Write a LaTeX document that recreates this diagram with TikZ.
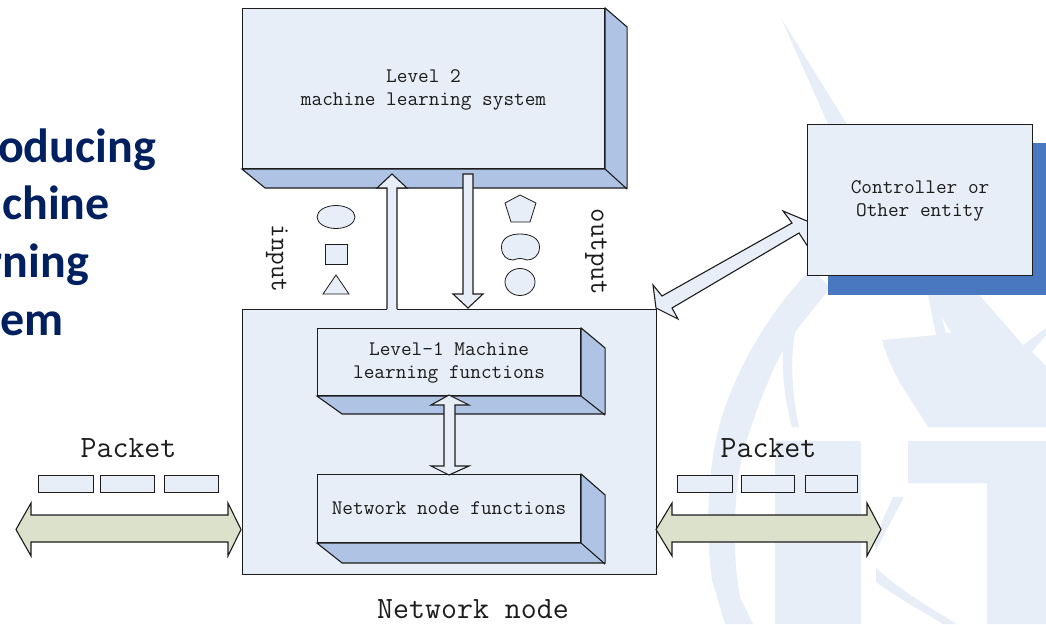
\documentclass[tikz,border=0pt]{standalone}
\usepackage{fontspec}
\setmainfont{Carlito}
\setmonofont{Latin Modern Mono}
\definecolor{wm}{HTML}{E8EEF8}
\definecolor{boxfill}{HTML}{E8EEF8}
\definecolor{sidefill}{HTML}{AFC4E4}
\definecolor{shadowblue}{HTML}{4A78C0}
\definecolor{pktgreen}{HTML}{DCE1CB}
\definecolor{titleblue}{HTML}{002060}
\definecolor{ink}{HTML}{1C1C1C}
\newcommand{\dn}{\rule{0pt}{15.5pt}}
\tikzset{
  x=1pt,y=-1pt,
  ln/.style={draw=ink,line width=1.1pt,line join=miter},
  box/.style={ln,fill=boxfill,inner sep=0pt,anchor=north west,align=center,
    font=\ttfamily\fontsize{20.7}{23}\selectfont,text=ink},
  side/.style={ln,fill=sidefill},
  blockarrow/.style={ln,fill=boxfill},
  greenarrow/.style={ln,fill=pktgreen},
  pkt/.style={ln,fill=boxfill,inner sep=0pt,anchor=north west,minimum height=17pt},
  glyph/.style={draw=ink,line width=0.8pt,fill=boxfill},
  bigmono/.style={font=\ttfamily\fontsize{31}{34}\selectfont,text=ink,inner sep=0pt},
  headline/.style={font=\bfseries\fontsize{48}{52}\selectfont,text=titleblue,inner sep=0pt,anchor=base east},
}
\begin{document}
\begin{tikzpicture}
\useasboundingbox (0,0) rectangle (1046,624);
\clip (0,0) rectangle (1046,624);
% watermark
\fill[wm] (781,18) -- (828,124) -- (847,124) -- cycle;
\fill[wm] (812,268) .. controls (770,310) and (735,370) .. (720,423)
  .. controls (708,465) and (705,530) .. (712,580) -- (725,624) -- (753,624) -- (740,597)
  .. controls (733,560) and (733,510) .. (740,467)
  .. controls (748,430) and (765,385) .. (783,350)
  .. controls (782,380) and (786,405) .. (792,427) -- (799,427)
  .. controls (792,395) and (790,360) .. (795,332) -- (830,288) -- cycle;
\fill[wm] (775,441) rectangle (861,624);
\fill[wm] (908,441) -- (1046,441) -- (1046,624) -- (987,624) -- (987,483) -- (908,483) -- cycle;
\fill[wm] (882,340) -- (936,335) -- (927,290) -- (975,290) -- (1023,345) -- (1046,328) -- (1046,335)
  -- (1032,352) -- (1046,366) -- (1046,427) -- (928,427) -- (900,383) .. controls (892,368) and (886,355) .. cycle;
\fill[white] (942,318) -- (951,333) -- (946,333) -- cycle;
\fill[wm] (893,497) -- (904,497) -- (876,550) -- (874,540) -- cycle;
\fill[wm] (876,568) .. controls (900,590) and (930,608) .. (957,624) -- (943,624)
  .. controls (920,610) and (895,596) .. (876,582) -- cycle;
% heading
\node[headline] (h1) at (156,162) {Introducing};
\node[headline] (h2) at (110,219) {machine};
\node[headline] (h3) at (89,277) {learning};
\node[headline] (h4) at (64,335) {system};
% controller shadow
\fill[shadowblue] (828,143) rectangle (1046,295);
% level 2
\node[box,minimum width=362pt,minimum height=160pt] (l2) at (242,8) {\dn Level 2\\machine learning system};
\draw[side] (l2.north east) -- ++(22,19) -- ++(0,161) -- ++(-362,0) -- (l2.south west) -- (l2.south east) -- cycle;
\draw[ln] (l2.south east) -- ++(22,20);
% network node
\node[draw=ink,line width=1.1pt,fill=boxfill,inner sep=0pt,anchor=north west,minimum width=414pt,minimum height=265pt] (net) at (242,309) {};
% level 1
\node[box,minimum width=263pt,minimum height=67pt] (l1) at (317,328) {\dn Level-1 Machine\\learning functions};
\draw[side] (l1.north east) -- ++(24,20) -- ++(0,66) -- ++(-263,0) -- (l1.south west) -- (l1.south east) -- cycle;
\draw[ln] (l1.south east) -- ++(24,19);
\node[box,minimum width=263pt,minimum height=68pt] (nf) at (317,474) {Network node functions};
\draw[side] (nf.north east) -- ++(24,21) -- ++(0,68) -- ++(-263,0) -- (nf.south west) -- (nf.south east) -- cycle;
\draw[ln] (nf.south east) -- ++(24,21);
% controller
\coordinate (diagA) at (656,308);
\coordinate (diagB) at (819,226);
\draw[blockarrow] (diagA) -- (653,285) -- (662,296) -- (792,223) -- (783,211) -- (diagB) -- (810,250) -- (799,233) -- (672,308) -- (678,319) -- cycle;
\node[box,minimum width=225pt,minimum height=151pt] (ctl) at (807,124) {\dn Controller or\\Other entity};
% input / output arrows
\coordinate (inTail) at (392,309);
\coordinate (inTip) at (392,174);
\fill[boxfill] (387,310) -- (387,188) -- (377,188) -- (inTip) -- (407,188) -- (397,188) -- (397,310) -- cycle;
\draw[ln] (387,309) -- (387,188) -- (377,188) -- (inTip) -- (407,188) -- (397,188) -- (397,309);
\coordinate (outTail) at (468,174);
\coordinate (outTip) at (468,308);
\draw[blockarrow] (463,174) -- (outTail) -- (473,174) -- (473,294) -- (483,294) -- (outTip) -- (453,294) -- (463,294) -- cycle;
% l1 double arrow
\coordinate (dA) at (449,395);
\coordinate (dB) at (449,475);
\draw[blockarrow] (dA) -- (469,405) -- (455,405) -- (455,466) -- (469,466) -- (dB) -- (431,466) -- (444,466) -- (444,405) -- (431,405) -- cycle;
% packet arrows
\coordinate (pl) at (16,529.5);
\coordinate (pr) at (241,529.5);
\draw[greenarrow] (pl) -- (31,503) -- (31,515) -- (228,515) -- (228,503) -- (pr) -- (228,556) -- (228,542) -- (31,542) -- (31,556) -- cycle;
\coordinate (ql) at (656,529.5);
\coordinate (qr) at (881,529.5);
\draw[greenarrow] (ql) -- (672,503) -- (672,515) -- (867,515) -- (867,503) -- (qr) -- (867,556) -- (867,542) -- (672,542) -- (672,556) -- cycle;
% packets
\node[pkt,minimum width=55pt] (p1) at (38,475) {};
\node[pkt,minimum width=54pt] (p2) at (100,475) {};
\node[pkt,minimum width=54pt] (p3) at (164,475) {};
\node[pkt,minimum width=55pt] (p4) at (677,475) {};
\node[pkt,minimum width=53pt] (p5) at (741,475) {};
\node[pkt,minimum width=52pt] (p6) at (805,475) {};
% glyphs
\draw[glyph] (336,217) ellipse [x radius=19,y radius=11.5];
\draw[glyph] (325,244) rectangle (347,264);
\draw[glyph] (336,275) -- (349,294) -- (323,294) -- cycle;
\draw[glyph] (520,195) -- (536,203) -- (530,222) -- (511,222) -- (505,203) -- cycle;
\draw[glyph] (501.5,247) .. controls (501.5,238) and (510,234) .. (520,234)
  .. controls (530,234) and (539.5,238) .. (539.5,247)
  .. controls (539.5,256) and (533,260) .. (527,260)
  .. controls (525,260) and (524,258.5) .. (520,258.5)
  .. controls (516,258.5) and (515,260) .. (513,260)
  .. controls (507,260) and (501.5,256) .. (501.5,247) -- cycle;
\draw[glyph] (520,282) ellipse [x radius=15,y radius=13.5];
% labels
\node[bigmono] (t1) at (128.5,448) {Packet};
\node[bigmono] (t2) at (768.5,448) {Packet};
\node[bigmono] (t3) at (473,609) {Network node};
\node[font=\ttfamily\fontsize{26.5}{29}\selectfont,text=ink,inner sep=0pt,rotate=-90] (t4) at (277,258.5) {input};
\node[font=\ttfamily\fontsize{28}{31}\selectfont,text=ink,inner sep=0pt,rotate=-90] (t5) at (596,252) {output};
\end{tikzpicture}
\end{document}
